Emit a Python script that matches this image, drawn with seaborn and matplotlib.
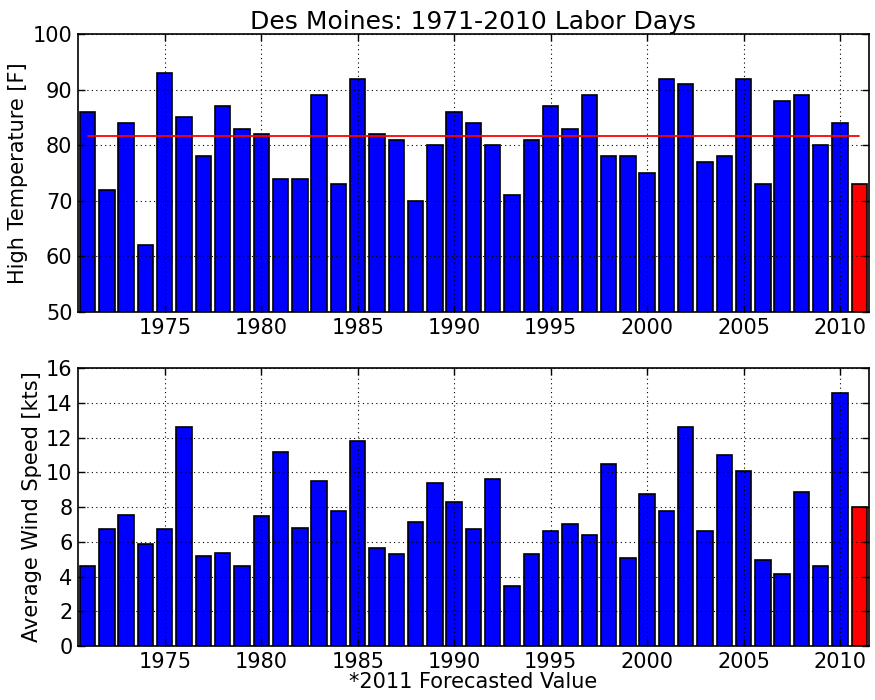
import numpy as np
import pandas as pd
import matplotlib
matplotlib.use("Agg")
import matplotlib.pyplot as plt
import seaborn as sns

years = list(range(1971, 2012))
high_temp = [86, 72, 84, 62, 93, 85, 78, 87, 83, 82,
             74, 74, 89, 73, 92, 82, 81, 70, 80, 86,
             84, 80, 71, 81, 87, 83, 89, 78, 78, 75,
             92, 91, 77, 78, 92, 73, 88, 89, 80, 84,
             73]
wind_speed = [4.6, 6.75, 7.56, 5.88, 6.73, 12.62, 5.17, 5.37, 4.63, 7.48,
              11.15, 6.77, 9.5, 7.75, 11.8, 5.65, 5.29, 7.13, 9.37, 8.29,
              6.73, 9.62, 3.46, 5.29, 6.6, 7.0, 6.37, 10.46, 5.06, 8.73,
              7.79, 12.63, 6.6, 11.02, 10.1, 4.96, 4.17, 8.88, 4.62, 14.58,
              8.0]
kind = ["obs"] * 40 + ["forecast"]
xticks = [1975, 1980, 1985, 1990, 1995, 2000, 2005, 2010]

df = pd.DataFrame({"year": years, "temp": high_temp, "wind": wind_speed, "kind": kind})
temp_mean = float(np.mean(high_temp[:40]))

sns.set_theme(style="white", rc={
    "xtick.direction": "in", "ytick.direction": "in",
    "xtick.top": True, "ytick.right": True,
    "xtick.bottom": True, "ytick.left": True,
    "xtick.major.size": 5, "ytick.major.size": 5,
    "xtick.major.width": 1, "ytick.major.width": 1,
    "axes.edgecolor": "black", "axes.linewidth": 1.2,
    "xtick.color": "black", "ytick.color": "black",
    "text.color": "black", "axes.labelcolor": "black",
})
plt.rcParams["font.family"] = ["DejaVu Sans"]

fig = plt.figure(figsize=(8.75, 7), dpi=100)
ax1 = fig.add_axes([0.0891, 0.5543, 0.904, 0.397])
ax2 = fig.add_axes([0.0891, 0.0771, 0.904, 0.397])

palette = {"obs": "#0000ff", "forecast": "#ff0000"}

for ax, col in ((ax1, "temp"), (ax2, "wind")):
    sns.barplot(data=df, x="year", y=col, hue="kind", palette=palette,
                native_scale=True, dodge=False, width=0.8, saturation=1,
                edgecolor="black", linewidth=1.2, legend=False, ax=ax, zorder=2)
    ax.set_xlim(1970.5, 2011.5)
    ax.set_xticks(xticks)
    ax.set_xticklabels([str(t) for t in xticks])
    ax.grid(True, linestyle=(0, (1, 3)), color="black", linewidth=0.8, zorder=0)
    ax.set_axisbelow(False)
    ax.tick_params(labelsize=15, pad=4)
    for s in ax.spines.values():
        s.set_visible(True)
        s.set_zorder(5)

ax1.plot([1971, 2011], [temp_mean, temp_mean], color="red", linewidth=1.3, zorder=4)
ax1.set_ylim(50, 100)
ax1.set_yticks([50, 60, 70, 80, 90, 100])
ax1.set_xlabel("")
ax1.set_ylabel("High Temperature [F]", fontsize=15, labelpad=3)
ax1.set_title("Des Moines: 1971-2010 Labor Days", fontsize=18, pad=3)

ax2.set_ylim(0, 16)
ax2.set_yticks([0, 2, 4, 6, 8, 10, 12, 14, 16])
ax2.set_ylabel("Average Wind Speed [kts]", fontsize=15, labelpad=3)
ax2.set_xlabel("*2011 Forecasted Value", fontsize=15, labelpad=0)

fig.savefig("out.png", dpi=100)
